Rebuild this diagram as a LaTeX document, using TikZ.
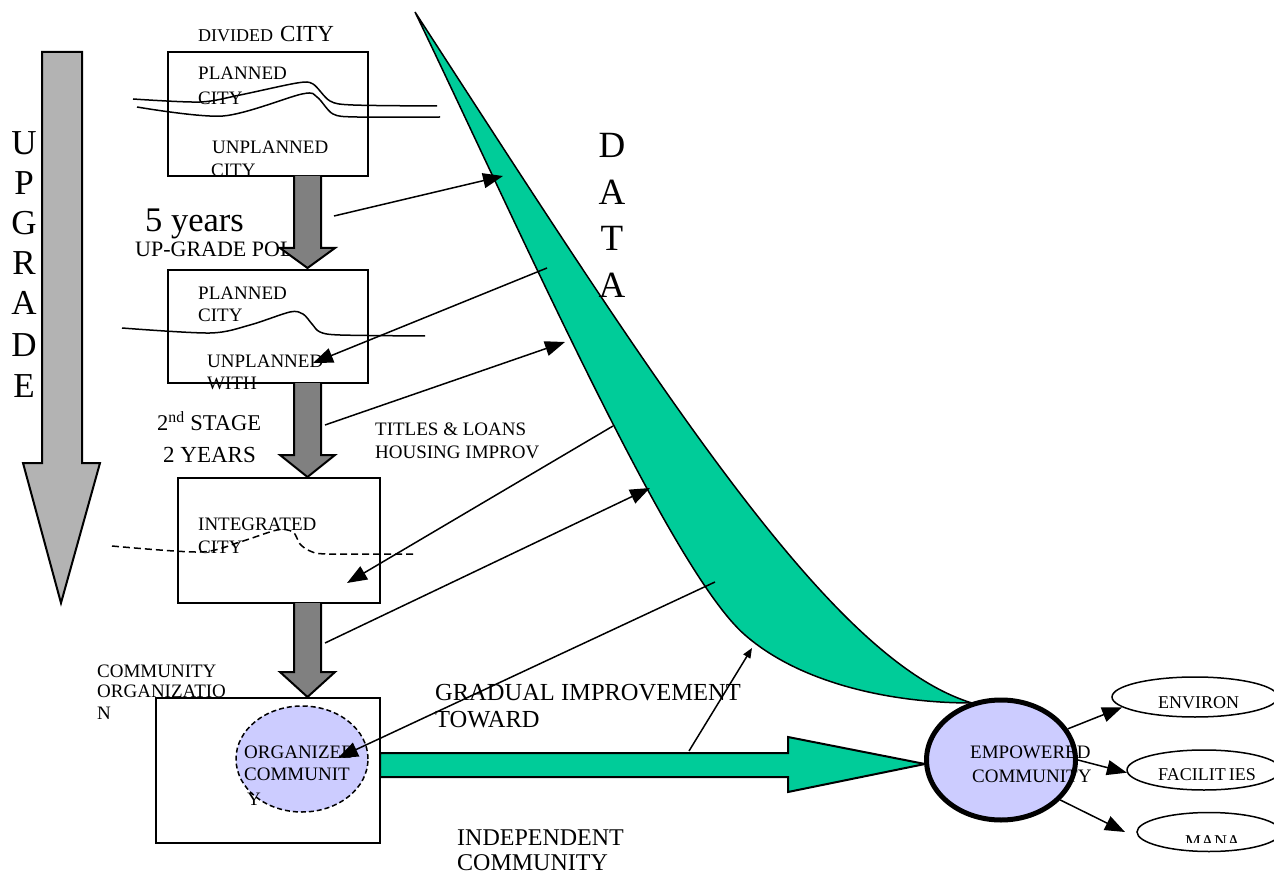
\documentclass[tikz,border=0pt]{standalone}
\usepackage{fontspec}
\setmainfont{Liberation Serif}
\usetikzlibrary{arrows.meta,shapes.geometric}
\definecolor{dgreen}{RGB}{0,204,153}
\definecolor{lav}{RGB}{204,204,255}
\definecolor{dgray}{RGB}{128,128,128}
\definecolor{lgray}{RGB}{179,179,179}
\begin{document}
\begin{tikzpicture}[x=1pt,y=-1pt,
  txt/.style={inner sep=0pt, anchor=base west, font=\fontsize{19}{22}\selectfont},
  bigtxt/.style={inner sep=0pt, anchor=base west, font=\fontsize{24.5}{28}\selectfont},
  letter/.style={inner sep=0pt, anchor=base, font=\fontsize{35}{40}\selectfont},
  box/.style={draw, line width=2pt, inner sep=0pt},
  arr/.style={line width=1.5pt, -{Triangle[length=20pt,width=15pt]}},
  smallarr/.style={line width=1.5pt, -{Triangle[length=10pt,width=8pt]}},
  blockarrow/.style={draw, line width=2pt, fill=dgray, line join=miter},
  cityline/.style={line width=1.5pt},
  oval/.style={draw, ellipse, inner sep=0pt, line width=1.5pt}
]
\useasboundingbox (0,0) rectangle (1274,874);

% UPGRADE arrow
\draw[line width=2pt, fill=lgray] (42,52) -- (82,52) -- (82,463) -- (100,463) -- (61,603) -- (23,463) -- (42,463) -- cycle;
\foreach \l/\y in {U/155,P/195,G/235,R/275,A/315,D/357,E/397}
  \node[letter] at (24,\y) {\l};

% DATA shape
\draw[line width=1.5pt, fill=dgreen] (415,12) .. controls (520,230) and (670,570) .. (745,635)
  .. controls (800,683) and (890,703) .. (972,703)
  .. controls (830,660) and (660,390) .. (415,12) -- cycle;
\node[letter, font=\fontsize{37}{40}\selectfont] at (612,158) {D};
\node[letter, font=\fontsize{37}{40}\selectfont] at (612,205) {A};
\node[letter, font=\fontsize{37}{40}\selectfont] at (612,251) {T};
\node[letter, font=\fontsize{37}{40}\selectfont] at (612,298) {A};

% Box 1: divided city
\node[txt, font=\fontsize{18}{20}\selectfont] (t1) at (198,42) {DIVIDED};
\node[txt, font=\fontsize{23}{26}\selectfont] (t2) at (280,42) {CITY};
\node[box, minimum width=200pt, minimum height=124pt] (b1) at (268,114) {};
\node[txt] at (198,80) {PLANNED};
\node[txt] at (198,105) {CITY};
\node[txt] at (212,154) {UNPLANNED};
\node[txt] at (211,177) {CITY};
\draw[cityline] plot[smooth, tension=0.5] coordinates {(133,99) (200,102) (240,95) (297,83) (313,84) (330,101) (353,105) (437,106)};
\draw[cityline] plot[smooth, tension=0.5] coordinates {(137,107) (223,116) (302,94) (317,97) (333,114) (357,117) (440,117)};

% labels between box 1 and box 2
\node[txt, font=\fontsize{34.5}{38}\selectfont] at (145,232) {5 years};
\node[txt, font=\fontsize{22}{24}\selectfont] at (135,257) {UP-GRADE POL};
\draw[blockarrow] (294,176) -- (294,248) -- (280,248) -- (307.5,268) -- (335,248) -- (321,248) -- (321,176);

% Box 2
\node[box, minimum width=200pt, minimum height=113pt] (b2) at (268,326.5) {};
\node[txt] at (198,300) {PLANNED};
\node[txt] at (198,322) {CITY};
\node[txt] at (207,368) {UNPLANNED};
\node[txt] at (207,389) {WITH};
\draw[cityline] plot[smooth, tension=0.5] coordinates {(122,328) (210,333) (250,325) (290,312) (303,314) (312,324) (320,332) (340,335) (425,336)};

\node[txt, font=\fontsize{22.5}{24}\selectfont] at (157,430) {2\textsuperscript{nd} STAGE};
\node[txt, font=\fontsize{23}{26}\selectfont] at (163,462) {2 YEARS};
\node[txt] at (375,435) {TITLES \& LOANS};
\node[txt] at (375,458) {HOUSING IMPROV};
\draw[blockarrow] (294,383) -- (294,455) -- (280,455) -- (307.5,477) -- (335,455) -- (321,455) -- (321,383);

% Box 3
\node[box, minimum width=202pt, minimum height=125pt] (b3) at (279,540.5) {};
\node[txt] at (198,530) {INTEGRATED};
\node[txt] at (198,553) {CITY};
\draw[cityline, dash pattern=on 7pt off 4pt] plot[smooth, tension=0.5] coordinates {(112,546) (200,552) (240,542) (277,530) (293,532) (300,544) (310,551) (327,554) (413,554)};
\draw[blockarrow] (294,603) -- (294,672) -- (280,672) -- (307.5,697) -- (335,672) -- (321,672) -- (321,603);

% Box 4
\node[txt] at (97,677) {COMMUNITY};
\node[txt] at (97,697) {ORGANIZATIO};
\node[txt] at (97,719) {N};
\node[box, minimum width=224pt, minimum height=145pt] (b4) at (268,770.5) {};
\node[oval, dash pattern=on 5pt off 3pt, fill=lav, minimum width=132pt, minimum height=106pt] (org) at (302,759) {};
\node[txt] at (244,758) {ORGANIZED};
\node[txt] at (244,780) {COMMUNIT};
\node[txt] at (247,805) {Y};

% green arrow
\draw[line width=2pt, fill=dgreen] (380,753) -- (788,753) -- (788,737) -- (925,764) -- (788,792) -- (788,777) -- (380,777) -- cycle;
\node[bigtxt] at (435,700) {GRADUAL IMPROVEMENT};
\node[bigtxt] at (435,727) {TOWARD};
\node[bigtxt, font=\fontsize{24}{28}\selectfont] at (457,845) {INDEPENDENT};
\node[bigtxt, font=\fontsize{24}{28}\selectfont] at (457,870) {COMMUNITY};

% thin arrows
\coordinate (a1s) at (334,216); \coordinate (a1e) at (503,176);
\coordinate (a2s) at (547,268); \coordinate (a2e) at (313,363);
\coordinate (a3s) at (325,425); \coordinate (a3e) at (565,342);
\coordinate (a4s) at (613,426); \coordinate (a4e) at (347,583);
\coordinate (a5s) at (325,643); \coordinate (a5e) at (650,488);
\coordinate (a6s) at (715,582); \coordinate (a6e) at (338,758);
\coordinate (a7s) at (689,751); \coordinate (a7e) at (752,648);
\draw[arr] (a1s) -- (a1e);
\draw[arr] (a2s) -- (a2e);
\draw[arr] (a3s) -- (a3e);
\draw[arr] (a4s) -- (a4e);
\draw[arr] (a5s) -- (a5e);
\draw[arr] (a6s) -- (a6e);
\draw[smallarr] (a7s) -- (a7e);

% empowered community
\node[oval, line width=5pt, fill=lav, minimum width=149pt, minimum height=120pt] (emp) at (1001,760) {};
\node[txt] at (970,758) {EMPOWERED};
\node[txt] at (972,782) {COMMUNITY};
\node[oval, minimum width=166pt, minimum height=40pt] (env) at (1195,697) {};
\node[oval, minimum width=154pt, minimum height=40pt] (fac) at (1204,770) {};
\node[oval, minimum width=144pt, minimum height=39pt] (mana) at (1209,832) {};
\node[txt, font=\fontsize{18}{20}\selectfont] at (1158,708) {ENVIRON};
\node[txt, font=\fontsize{18}{20}\selectfont] at (1158,780) {FACILIT\hspace{3pt}IES};
\begin{scope}
\clip (1100,800) rectangle (1274,842);
\node[txt, font=\fontsize{18}{20}\selectfont] at (1185,847) {MANA};
\end{scope}
\draw[arr] (emp.25) -- (env.188);
\draw[arr] (emp.0) -- (fac.182);
\coordinate (mtip) at (1125,832);
\draw[arr] (emp.-34) -- (mtip);
\end{tikzpicture}
\end{document}
